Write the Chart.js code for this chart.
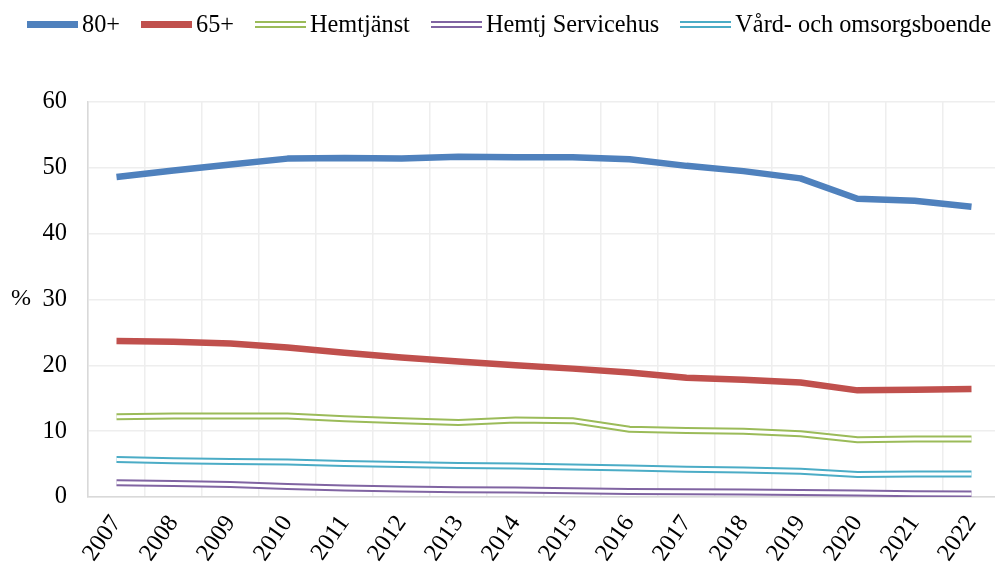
<!DOCTYPE html>
<html>
<head>
<meta charset="utf-8">
<script src="https://cdn.jsdelivr.net/npm/chart.js@4/dist/chart.umd.min.js"></script>
<style>
    body { margin: 0; overflow: hidden; background: #fff; }
    #wrap { position: relative; width: 1000px; height: 563px; }
    #legend { position: absolute; left: 27px; top: 10px; display: flex; align-items: center;
        font-family: "Liberation Serif", "Times New Roman", serif; font-size: 24.3px; color: #000; white-space: nowrap; }
    .item { display: flex; align-items: center; margin-right: 21px; }
    .sw { width: 51px; margin-right: 4px; box-sizing: border-box; }
    .solid { height: 7px; }
    .double { height: 7px; border-top: 2px solid; border-bottom: 2px solid; background: #fff; }
    #unit { position: absolute; left: 11px; top: 284px; font-family: "Liberation Serif", "Times New Roman", serif; font-size: 24px; }
</style>
</head>
<body>
<div id="wrap">
    <canvas id="chLine" width="1000" height="563"></canvas>
    <div id="legend"></div>
    <span id="unit">%</span>
</div>
<script>
let years = ['2007', '2008', '2009', '2010', '2011', '2012', '2013', '2014', '2015', '2016', '2017', '2018', '2019', '2020', '2021', '2022'];
let yTicks = [0, 10, 20, 30, 40, 50, 60];

let p80 = [48.6, 49.6, 50.5, 51.4, 51.5, 51.4, 51.7, 51.6, 51.6, 51.3, 50.3, 49.5, 48.4, 45.3, 45.0, 44.1];
let p65 = [23.7, 23.6, 23.3, 22.7, 21.9, 21.2, 20.6, 20.0, 19.5, 18.9, 18.1, 17.8, 17.4, 16.2, 16.3, 16.4];
let hemtjanst = [12.2, 12.3, 12.3, 12.3, 11.9, 11.6, 11.3, 11.7, 11.6, 10.3, 10.1, 10.0, 9.6, 8.7, 8.8, 8.8];
let servicehus = [2.15, 2.05, 1.9, 1.6, 1.35, 1.2, 1.1, 1.05, 0.95, 0.85, 0.8, 0.75, 0.7, 0.6, 0.5, 0.45];
let vard = [5.7, 5.5, 5.4, 5.3, 5.1, 4.95, 4.8, 4.7, 4.55, 4.4, 4.2, 4.1, 3.9, 3.4, 3.5, 3.5];

let series = [
    { label: '80+', data: p80, color: '#4f81bd', style: 'solid' },
    { label: '65+', data: p65, color: '#c0504d', style: 'solid' },
    { label: 'Hemtjänst', data: hemtjanst, color: '#9bbb59', style: 'double' },
    { label: 'Hemtj Servicehus', data: servicehus, color: '#8064a2', style: 'double' },
    { label: 'Vård- och omsorgsboende', data: vard, color: '#4bacc6', style: 'double' }
];

let font = { family: '"Liberation Serif", "Times New Roman", serif', size: 24.5 };

function buildDatasets() {
    let sets = [];
    series.forEach(s => {
        let base = {
            label: s.label,
            data: s.data,
            borderColor: s.color,
            borderWidth: s.style == 'solid' ? 6.5 : 7,
            pointRadius: 0,
            tension: 0,
            fill: false,
            borderJoinStyle: 'round',
            order: 2
        };
        sets.push(base);
        // double line: white stripe down the middle
        if (s.style == 'double') {
            sets.push({
                label: s.label + ' inner',
                data: s.data,
                borderColor: '#ffffff',
                borderWidth: 3,
                pointRadius: 0,
                tension: 0,
                fill: false,
                borderJoinStyle: 'round',
                order: 1
            });
        }
    });
    return sets;
}

function buildLegend() {
    let box = document.getElementById('legend');
    series.forEach(s => {
        let item = document.createElement('div');
        item.className = 'item';
        let sw = document.createElement('div');
        sw.className = 'sw ' + s.style;
        if (s.style == 'solid') {
            sw.style.background = s.color;
        } else {
            sw.style.borderColor = s.color;
        }
        let txt = document.createElement('span');
        txt.textContent = s.label;
        item.appendChild(sw);
        item.appendChild(txt);
        box.appendChild(item);
    });
}

function createLineChart() {
    var chLine = document.getElementById('chLine');
    new Chart(chLine, {
        type: 'line',
        data: { labels: years, datasets: buildDatasets() },
        options: {
            responsive: false,
            animation: false,
            layout: { padding: { top: 102, right: 0, left: 0, bottom: 0 } },
            plugins: {
                legend: { display: false },
                tooltip: { enabled: false }
            },
            scales: {
                x: {
                    offset: true,
                    grid: { offset: true, color: '#eeeeee', lineWidth: 1.5, drawTicks: false },
                    border: { color: '#d9d9d9', width: 1.5 },
                    ticks: { color: '#000', font: font, minRotation: 55, maxRotation: 55, padding: 13 },
                    afterFit: function (scale) {
                        scale.height = 66;
                        scale.paddingRight = 0;
                        scale.paddingLeft = 0;
                    }
                },
                y: {
                    min: 0,
                    max: 60,
                    afterBuildTicks: function (scale) { scale.ticks = yTicks.map(v => ({ value: v })); },
                    grid: { color: '#eeeeee', lineWidth: 1.5, drawTicks: false },
                    border: { color: '#d9d9d9', width: 1.5 },
                    ticks: { color: '#000', font: font, padding: 21 },
                    afterFit: function (scale) { scale.width = 88; }
                }
            }
        }
    });
}

buildLegend();
createLineChart();
</script>
</body>
</html>
